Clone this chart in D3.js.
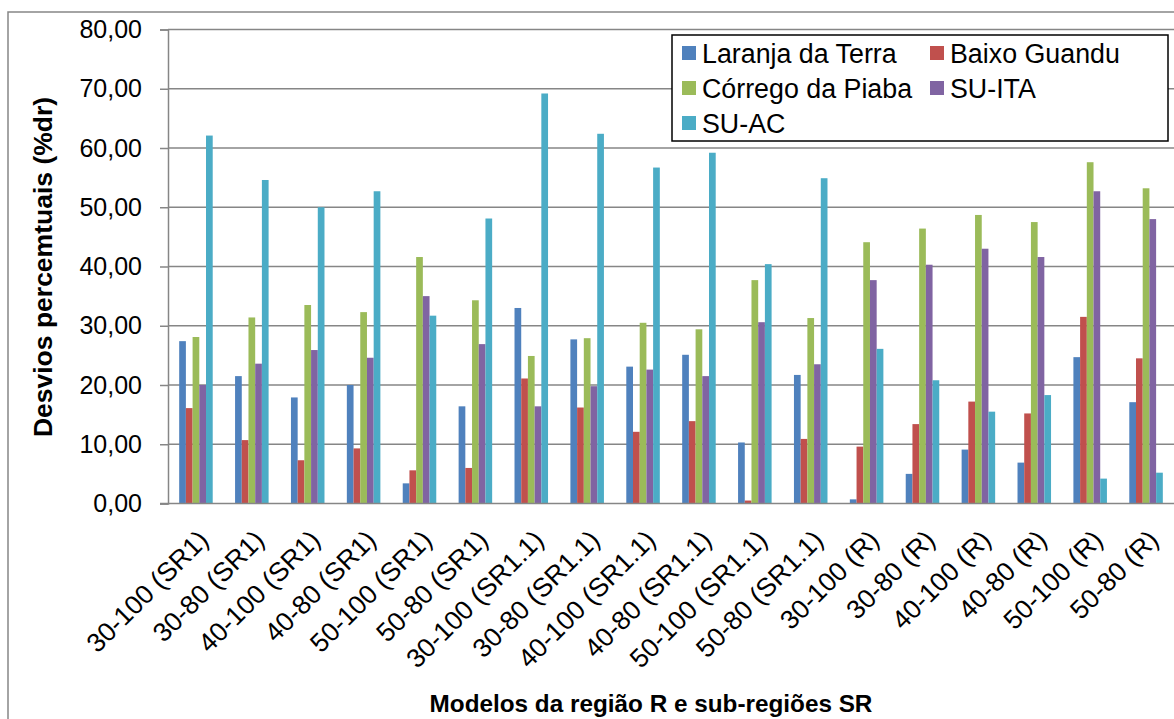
<!DOCTYPE html>
<html><head><meta charset="utf-8">
<script src="https://cdn.jsdelivr.net/npm/d3@7"></script>
<style>body{margin:0;background:#fff;} svg{display:block;font-family:"Liberation Sans",Arial,sans-serif;}</style>
</head><body>
<svg id="c" width="1174" height="719"></svg>
<script>
const categories = ["30-100 (SR1)","30-80 (SR1)","40-100 (SR1)","40-80 (SR1)","50-100 (SR1)","50-80 (SR1)",
  "30-100 (SR1.1)","30-80 (SR1.1)","40-100 (SR1.1)","40-80 (SR1.1)","50-100 (SR1.1)","50-80 (SR1.1)",
  "30-100 (R)","30-80 (R)","40-100 (R)","40-80 (R)","50-100 (R)","50-80 (R)"];
const seriesNames = ["Laranja da Terra","Baixo Guandu","Córrego da Piaba","SU-ITA","SU-AC"];
const laranjaDaTerra = [27.4,21.5,17.9,20.0,3.4,16.4,33.0,27.7,23.1,25.1,10.3,21.7,0.7,5.0,9.1,6.9,24.7,17.1];
const baixoGuandu    = [16.1,10.7,7.3,9.3,5.6,6.0,21.1,16.2,12.1,13.9,0.5,10.9,9.6,13.4,17.2,15.2,31.5,24.5];
const corregoPiaba   = [28.1,31.4,33.5,32.3,41.6,34.3,24.9,27.9,30.5,29.4,37.7,31.3,44.1,46.4,48.7,47.5,57.6,53.2];
const suIta          = [20.0,23.6,25.9,24.6,35.0,26.9,16.4,19.8,22.6,21.5,30.6,23.5,37.7,40.3,43.0,41.6,52.7,48.0];
const suAc           = [62.1,54.6,50.0,52.7,31.7,48.1,69.2,62.4,56.7,59.2,40.4,54.9,26.1,20.8,15.5,18.3,4.2,5.2];
const yTicks = [0,10,20,30,40,50,60,70,80];
const colors = ["#4F81BD","#C0504D","#9BBB59","#8064A2","#4BACC6"];
const yTitle = "Desvios percemtuais (%dr)";
const xTitle = "Modelos da região R e sub-regiões SR";

const allSeries = [laranjaDaTerra, baixoGuandu, corregoPiaba, suIta, suAc];
const svg = d3.select("#c");
const L = 168, R = 1174, T = 29.5, B = 503.5;

// outer border
svg.append("rect").attr("x",8).attr("y",12).attr("width",1200).attr("height",760)
  .attr("fill","none").attr("stroke","#868686").attr("stroke-width",1.5);

const y = d3.scaleLinear().domain([0,80]).range([B,T]);
const x0 = d3.scaleBand().domain(categories).range([L,R]).paddingInner(0.4).paddingOuter(0.2);
const x1 = d3.scaleBand().domain(seriesNames).range([0,x0.bandwidth()]);

// gridlines
svg.append("g").selectAll("line").data(yTicks.filter(d=>d>0)).join("line")
  .attr("x1",L).attr("x2",R).attr("y1",d=>y(d)).attr("y2",d=>y(d))
  .attr("stroke","#868686").attr("stroke-width",1.5);

// y axis
const yAxis = svg.append("g").attr("transform",`translate(${L},0)`)
  .call(d3.axisLeft(y).tickValues(yTicks).tickSize(8).tickPadding(18)
    .tickFormat(d=>d3.format(".2f")(d).replace(".",",")));
yAxis.select(".domain").attr("stroke","#868686").attr("stroke-width",1.5);
yAxis.selectAll(".tick line").attr("stroke","#868686").attr("stroke-width",1.5);
yAxis.selectAll(".tick text").attr("font-size",25).attr("fill","#000")
  .attr("font-family","'Liberation Sans',Arial,sans-serif");

// bars
const groups = svg.append("g").selectAll("g").data(categories).join("g")
  .attr("transform",d=>`translate(${x0(d)},0)`);
groups.selectAll("rect").data((c,i)=>allSeries.map((s,k)=>({k, v:s[i]}))).join("rect")
  .attr("x",d=>x1(seriesNames[d.k])).attr("width",x1.bandwidth())
  .attr("y",d=>y(d.v)).attr("height",d=>B-y(d.v))
  .attr("fill",d=>colors[d.k]);

// x axis
const xAxis = svg.append("g").attr("transform",`translate(0,${B})`)
  .call(d3.axisBottom(x0).tickSize(0).tickPadding(0));
xAxis.select(".domain").attr("stroke","#868686").attr("stroke-width",1.5).attr("d",`M${L-8},0H${R}`);
xAxis.selectAll(".tick text").attr("font-size",26.5).attr("fill","#000")
  .attr("font-family","'Liberation Sans',Arial,sans-serif")
  .attr("text-anchor","end").attr("dy",0).attr("y",0)
  .attr("transform","translate(14,38) rotate(-45)");

// axis titles
svg.append("text").attr("transform",`translate(52,267) rotate(-90)`)
  .attr("text-anchor","middle").attr("font-weight","bold").attr("font-size",26.5).text(yTitle);
svg.append("text").attr("x",651).attr("y",712)
  .attr("text-anchor","middle").attr("font-weight","bold").attr("font-size",24.3).text(xTitle);

// legend
const lg = svg.append("g");
lg.append("rect").attr("x",672).attr("y",35).attr("width",496).attr("height",106)
  .attr("fill","#fff").attr("stroke","#000").attr("stroke-width",1.5);
const pos = [[682,53],[930,53],[682,88],[930,88],[682,123]];
seriesNames.forEach((n,k)=>{
  const [px,py] = pos[k];
  lg.append("rect").attr("x",px).attr("y",py-7).attr("width",14).attr("height",14).attr("fill",colors[k]);
  lg.append("text").attr("x",px+20).attr("y",py).attr("dy","0.36em").attr("font-size",26.8).text(n);
});
</script>
</body></html>
